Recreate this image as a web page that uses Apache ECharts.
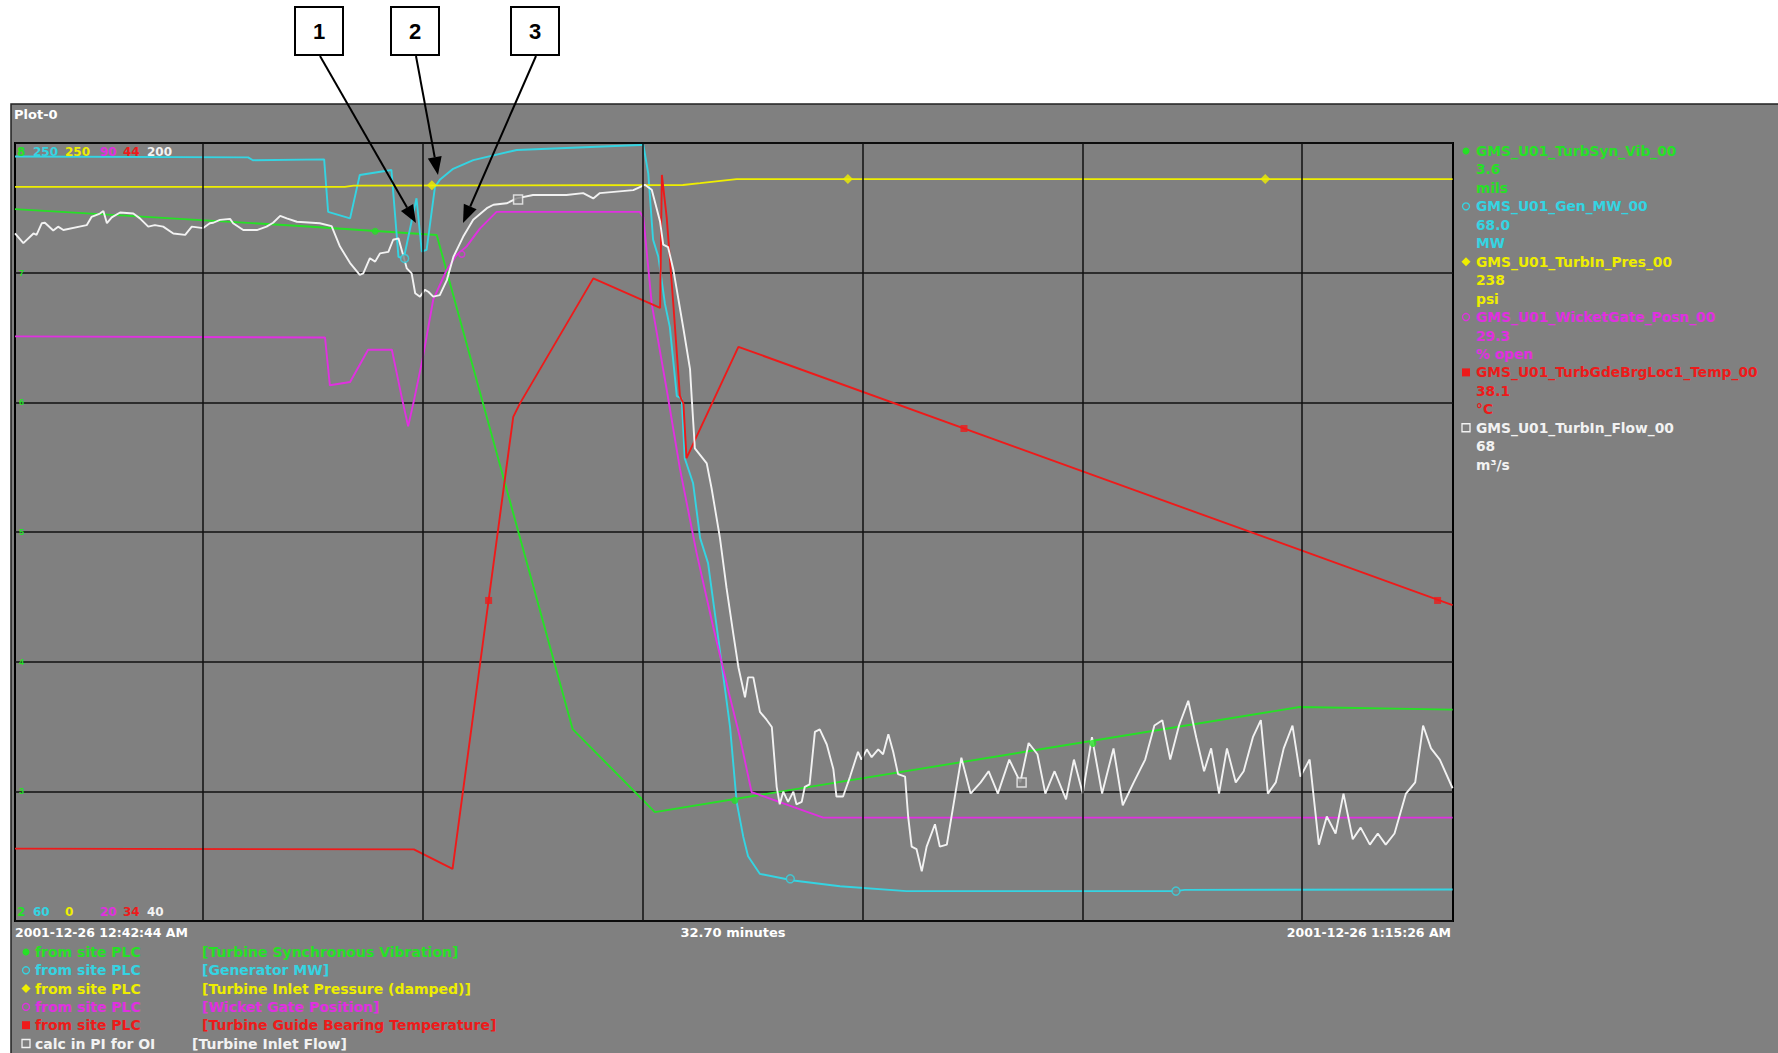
<!DOCTYPE html>
<html><head><meta charset="utf-8">
<script src="https://cdn.jsdelivr.net/npm/echarts@6/dist/echarts.min.js"></script>
<style>html,body{margin:0;padding:0;background:#fff;overflow:hidden}#c{width:1778px;height:1053px}</style>
</head><body><div id="c"></div>
<script>
// ---------- DATA (time in minutes after 2001-12-26 12:42:44 AM) ----------
const totalMinutes = 32.7;
const vGridT = [4.275, 9.275, 14.275, 19.275, 24.275, 29.275];

const greenT = [0, 6.48, 9.59, 12.68, 14.55, 29.21, 32.69];
const greenV = [7.49, 7.36, 7.29, 3.48, 2.84, 3.65, 3.63];
const greenMarkT = [8.19, 16.37, 24.51];
const greenMarkV = [7.32, 2.93, 3.37];

const cyanT = [0, 5.30, 5.41, 7.03, 7.12, 7.62, 7.84, 8.56, 8.72, 8.84,
  9.13, 9.25, 9.36, 9.55, 9.66, 9.95, 10.42, 11.41, 14.21, 14.29, 14.40,
  14.51, 14.63, 14.78, 14.89, 15.05, 15.16, 15.23, 15.42, 15.58, 15.76,
  15.99, 16.26, 16.41, 16.56, 16.67, 16.94, 17.70, 18.76, 20.27, 26.38,
  26.60, 32.69];
const cyanV = [246.7, 246.5, 245.8, 246.0, 233.2, 231.6, 242.2, 243.4, 222.2, 221.8,
  236.5, 223.5, 223.9, 239.3, 241.0, 243.6, 245.8, 248.3, 249.5, 249.5, 242.6,
  226.4, 222.2, 210.7, 205.1, 188.2, 187.6, 173.0, 166.9, 153.5, 147.4,
  129.2, 107.4, 89.1, 80.6, 75.8, 71.5, 69.9, 68.5, 67.3, 67.3,
  67.6, 67.7];
const cyanMarkT = [8.86, 17.63, 26.40];
const cyanMarkV = [221.8, 70.3, 67.3];

const yellowT = [0, 7.50, 7.70, 15.19, 15.58, 16.41, 32.69];
const yellowV = [235.9, 235.9, 236.3, 236.5, 237.1, 238.4, 238.4];
const yellowMarkT = [9.48, 18.94, 28.43];
const yellowMarkV = [236.4, 238.4, 238.4];

const magT = [0, 7.05, 7.16, 7.62, 8.03, 8.57, 8.79, 8.94, 9.06, 9.28,
  9.51, 9.82, 10.04, 10.27, 10.57, 10.95, 14.21, 14.29, 14.48, 14.82,
  15.12, 15.50, 15.88, 16.26, 16.48, 16.75, 17.39, 18.38, 32.69];
const magV = [72.6, 72.5, 68.2, 68.5, 71.4, 71.4, 67.2, 64.5, 66.6, 70.8,
  75.9, 78.6, 79.9, 80.7, 82.3, 83.8, 83.8, 83.3, 75.5, 67.8,
  60.7, 53.1, 46.4, 40.1, 36.6, 31.6, 30.7, 29.3, 29.3];
const magMarkT = [10.16];
const magMarkV = [80.0];

const redT = [0, 9.07, 9.95, 11.33, 11.48, 13.15, 14.67, 14.71, 14.82, 14.97, 15.12, 15.20, 15.27, 16.45, 32.69];
const redV = [34.93, 34.92, 34.67, 40.48, 40.65, 42.26, 41.88, 43.59, 43.04, 41.93, 40.75, 40.65, 39.95, 41.38, 38.06];
const redMarkT = [10.77, 21.58, 32.35];
const redMarkV = [38.12, 40.33, 38.12];

const whiteT = [
  0, .19, .42, .49, .61, .68, .87, .98, 1.10, 1.52,
  1.63, 1.74, 1.93, 2.01, 2.09, 2.20, 2.39, 2.69, 2.84, 3.03,
  3.18, 3.37, 3.60, 3.87, 4.02, 4.28, 4.43, 4.51, 4.66, 4.89,
  4.96, 5.19, 5.50, 5.72, 5.87, 6.03, 6.18, 6.41, 6.93, 7.20,
  7.39, 7.62, 7.84, 7.92, 8.07, 8.19, 8.30, 8.49, 8.60, 8.72,
  8.91, 9.02, 9.10, 9.21, 9.32, 9.40, 9.51, 9.66, 9.82, 9.97,
  10.19, 10.42, 10.73, 10.88, 11.18, 11.41, 11.78, 12.54, 12.92, 13.15,
  13.30, 14.06, 14.32, 14.48, 14.67, 14.74, 14.85, 14.97, 15.20, 15.35,
  15.39, 15.46, 15.73, 15.84, 16.03, 16.18, 16.33, 16.45, 16.60, 16.67,
  16.79, 16.94, 17.09, 17.21, 17.32, 17.39, 17.47, 17.58, 17.70, 17.77,
  17.89, 17.96, 18.07, 18.19, 18.30, 18.46, 18.61, 18.68, 18.83, 18.99,
  19.17, 19.25, 19.37, 19.48, 19.63, 19.74, 19.86, 19.97, 20.08, 20.24,
  20.31, 20.39, 20.50, 20.62, 20.73, 20.92, 21.03, 21.19, 21.52, 21.73,
  21.96, 22.14, 22.35, 22.61, 22.86, 23.05, 23.25, 23.43, 23.64, 23.90,
  24.08, 24.28, 24.49, 24.72, 24.98, 25.19, 25.44, 25.70, 25.91, 26.09,
  26.27, 26.47, 26.68, 26.86, 27.04, 27.20, 27.38, 27.56, 27.76, 27.94,
  28.15, 28.33, 28.49, 28.67, 28.85, 29.05, 29.23, 29.44, 29.65, 29.83,
  30.03, 30.21, 30.42, 30.60, 30.81, 30.99, 31.17, 31.37, 31.63, 31.84,
  32.02, 32.20, 32.40, 32.69];
const whiteV = [
  181.4, 179.4, 181.4, 181.1, 183.5, 183.6, 182.0, 182.8, 182.1, 182.9,
  183.1, 184.8, 185.5, 186.0, 183.5, 184.7, 185.7, 185.5, 184.5, 182.8,
  183.1, 182.8, 181.4, 181.1, 182.8, 182.5, 183.5, 183.6, 184.2, 184.4,
  183.5, 182.1, 182.1, 182.8, 183.6, 185.0, 184.5, 183.8, 183.5, 182.9,
  178.7, 175.3, 172.9, 173.2, 176.3, 175.6, 177.3, 177.6, 180.1, 180.4,
  174.2, 173.2, 169.1, 168.4, 169.8, 169.4, 168.4, 168.7, 171.8, 176.6,
  180.7, 184.2, 186.6, 187.3, 187.6, 188.6, 189.3, 189.3, 189.7, 188.6,
  189.7, 190.3, 191.4, 190.4, 183.8, 179.1, 178.6, 174.0, 161.8, 153.5,
  147.4, 137.2, 134.1, 129.0, 118.8, 108.5, 99.3, 92.2, 86.0, 90.1,
  90.1, 83.0, 81.4, 79.9, 67.6, 64.0, 66.6, 64.5, 66.6, 64.0,
  64.5, 67.6, 68.1, 78.9, 79.4, 76.3, 71.2, 65.6, 65.6, 69.7,
  74.8, 73.2, 75.3, 73.7, 75.3, 74.3, 78.4, 74.8, 70.2, 69.7,
  61.5, 55.3, 54.8, 50.2, 55.3, 59.9, 55.3, 55.7, 73.6, 66.2,
  68.5, 70.8, 66.2, 73.2, 68.5, 76.6, 74.3, 66.2, 70.8, 65.0,
  73.2, 66.2, 77.8, 66.2, 75.5, 63.8, 68.5, 73.2, 80.2, 81.3,
  73.2, 80.2, 85.3, 77.8, 70.8, 75.5, 66.2, 75.5, 68.5, 70.8,
  77.8, 81.3, 66.2, 68.5, 75.5, 80.2, 69.7, 73.2, 55.7, 61.5,
  58.0, 66.2, 56.8, 59.2, 55.7, 58.0, 55.7, 58.0, 66.2, 68.5,
  80.2, 75.5, 73.2, 67.3];
const whiteMarkT = [11.44, 22.89];
const whiteMarkV = [188.4, 68.5];

// scale labels (top = max, bottom = min)
const scaleTop = ['8', '250', '250', '90', '44', '200'];
const scaleBottom = ['2', '60', '0', '20', '34', '40'];
const scaleMin = [2, 60, 0, 20, 34, 40];
const scaleMax = [8, 250, 250, 90, 44, 200];

const tagNames = ['GMS_U01_TurbSyn_Vib_00', 'GMS_U01_Gen_MW_00', 'GMS_U01_TurbIn_Pres_00',
  'GMS_U01_WicketGate_Posn_00', 'GMS_U01_TurbGdeBrgLoc1_Temp_00', 'GMS_U01_TurbIn_Flow_00'];
const tagValues = ['3.6', '68.0', '238', '29.3', '38.1', '68'];
const tagUnits = ['mils', 'MW', 'psi', '% open', '°C', 'm³/s'];
const tagSources = ['from site PLC', 'from site PLC', 'from site PLC', 'from site PLC', 'from site PLC', 'calc in PI for OI'];
const tagDescs = ['[Turbine Synchronous Vibration]', '[Generator MW]', '[Turbine Inlet Pressure (damped)]',
  '[Wicket Gate Position]', '[Turbine Guide Bearing Temperature]', '[Turbine Inlet Flow]'];
const startLabel = '2001-12-26 12:42:44 AM';
const endLabel = '2001-12-26 1:15:26 AM';
const spanLabel = '32.70 minutes';

// ---------- STYLE ----------
const COLORS = ['#26e026', '#34d4e2', '#eeee00', '#e030e0', '#ee1a1a', '#f2f2f2'];
const BG = '#808080';
const F = '"DejaVu Sans", Verdana, sans-serif';
const G = {left: 15, top: 143, width: 1438, height: 778};

const zip = (a, b) => a.map((t, i) => [t, b[i]]);
const lines = [[greenT, greenV], [cyanT, cyanV], [yellowT, yellowV], [magT, magV], [redT, redV], [whiteT, whiteV]];
const marks = [[greenMarkT, greenMarkV], [cyanMarkT, cyanMarkV], [yellowMarkT, yellowMarkV], [magMarkT, magMarkV], [redMarkT, redMarkV], [whiteMarkT, whiteMarkV]];
const markSym = [
  {symbol: 'circle', size: 7, fill: true},
  {symbol: 'circle', size: 8, fill: false},
  {symbol: 'diamond', size: 10, fill: true},
  {symbol: 'circle', size: 6, fill: false},
  {symbol: 'rect', size: 7, fill: true},
  {symbol: 'rect', size: 9, fill: false}
];

const series = [];
series.push({
  type: 'line', data: [[0, 5]], xAxisIndex: 0, yAxisIndex: 0, symbol: 'none', z: 1,
  lineStyle: {width: 0, opacity: 0}, silent: true,
  markLine: {silent: true, symbol: ['none', 'none'], label: {show: false},
    lineStyle: {color: '#111', width: 1.5, type: 'solid'},
    data: vGridT.map(t => ({xAxis: t}))}
});
lines.forEach((l, i) => {
  series.push({type: 'line', yAxisIndex: i, data: zip(l[0], l[1]), symbol: 'none', z: 3,
    lineStyle: {color: COLORS[i], width: 1.9}, silent: true});
});
marks.forEach((m, i) => {
  const s = markSym[i];
  series.push({type: 'scatter', yAxisIndex: i, data: zip(m[0], m[1]), symbol: s.symbol, symbolSize: s.size, z: 5,
    itemStyle: s.fill ? {color: COLORS[i]} : {color: BG, borderColor: COLORS[i], borderWidth: 1.5}, silent: true});
});

const yAxis = scaleMin.map((mn, i) => i === 0 ? {
  type: 'value', min: mn, max: scaleMax[i], interval: 1, position: 'left',
  axisLine: {show: false}, axisTick: {show: false},
  splitLine: {show: true, lineStyle: {color: '#111', width: 1.5}},
  axisLabel: {inside: true, color: COLORS[0], fontSize: 9, fontWeight: 'bold', margin: 4, showMinLabel: false, showMaxLabel: false}
} : {type: 'value', min: mn, max: scaleMax[i], show: false});

// ---------- GRAPHICS (texts, legend, annotations) ----------
const gr = [];
const txt = (x, y, s, color, size, align) => gr.push({type: 'text', x, y, z: 100,
  style: {text: s, fill: color, font: `bold ${size}px ${F}`, textAlign: align || 'left', textVerticalAlign: 'middle'}});
function marker(kind, cx, cy, color) {
  const base = {z: 100, x: 0, y: 0};
  if (kind === 0) gr.push({...base, type: 'circle', shape: {cx, cy, r: 3.5}, style: {fill: color}});
  if (kind === 1 || kind === 3) gr.push({...base, type: 'circle', shape: {cx, cy, r: 3.5}, style: {fill: 'none', stroke: color, lineWidth: 1.3}});
  if (kind === 2) gr.push({...base, type: 'polygon', shape: {points: [[cx, cy - 4.5], [cx + 4.5, cy], [cx, cy + 4.5], [cx - 4.5, cy]]}, style: {fill: color}});
  if (kind === 4) gr.push({...base, type: 'rect', shape: {x: cx - 4, y: cy - 4, width: 8, height: 8}, style: {fill: color}});
  if (kind === 5) gr.push({...base, type: 'rect', shape: {x: cx - 4, y: cy - 4, width: 8, height: 8}, style: {fill: 'none', stroke: color, lineWidth: 1.3}});
}
// panel
gr.push({type: 'rect', z: -10, shape: {x: 11, y: 104, width: 1780, height: 960}, style: {fill: BG, stroke: '#222', lineWidth: 1.5}});
txt(14, 114, 'Plot-0', '#fff', 13);
// scale labels
const scaleX = [17, 33, 65, 100, 123, 147];
scaleTop.forEach((s, i) => txt(scaleX[i], 152, s, COLORS[i], 12));
scaleBottom.forEach((s, i) => txt(scaleX[i], 912, s, COLORS[i], 12));
// time labels
txt(15, 932, startLabel, '#fff', 12.5);
txt(733, 932, spanLabel, '#fff', 13, 'center');
txt(1451, 932, endLabel, '#fff', 12.5, 'right');
// right legend
tagNames.forEach((n, i) => {
  const y0 = 151 + i * 3 * 18.45;
  marker(i, 1466, y0, COLORS[i]);
  txt(1476, y0, n, COLORS[i], 13.8);
  txt(1476, y0 + 18.45, tagValues[i], COLORS[i], 13.8);
  txt(1476, y0 + 36.9, tagUnits[i], COLORS[i], 13.8);
});
// bottom legend
tagSources.forEach((s, i) => {
  const y = 952 + i * 18.3;
  marker(i, 26, y, COLORS[i]);
  txt(35, y, s, COLORS[i], 14);
  txt(i === 5 ? 192 : 202, y, tagDescs[i], COLORS[i], 14);
});
// annotation boxes + arrows
const boxes = [{x: 295, n: '1', from: [320, 56], to: [416, 223]},
  {x: 391, n: '2', from: [416, 56], to: [438, 175]},
  {x: 511, n: '3', from: [536, 56], to: [463, 223]}];
boxes.forEach(b => {
  gr.push({type: 'rect', z: 100, shape: {x: b.x, y: 7, width: 48, height: 48}, style: {fill: '#fff', stroke: '#000', lineWidth: 2}});
  gr.push({type: 'text', z: 101, x: b.x + 24, y: 31, style: {text: b.n, fill: '#000', font: 'bold 22px "Liberation Sans", Arial, sans-serif', textAlign: 'center', textVerticalAlign: 'middle'}});
  const [x1, y1] = b.from, [x2, y2] = b.to;
  const a = Math.atan2(y2 - y1, x2 - x1), L = 18, W = 7;
  const bx = x2 - L * Math.cos(a), by = y2 - L * Math.sin(a);
  gr.push({type: 'line', z: 100, shape: {x1, y1, x2: bx, y2: by}, style: {stroke: '#000', lineWidth: 2}});
  gr.push({type: 'polygon', z: 100, shape: {points: [[x2, y2], [bx + W * Math.sin(a), by - W * Math.cos(a)], [bx - W * Math.sin(a), by + W * Math.cos(a)]]}, style: {fill: '#000'}});
});

const chart = echarts.init(document.getElementById('c'), null, {renderer: 'svg'});
chart.setOption({
  animation: false,
  backgroundColor: '#ffffff',
  grid: {...G, show: true, backgroundColor: BG, borderColor: '#000', borderWidth: 2},
  xAxis: {type: 'value', min: 0, max: totalMinutes, show: false},
  yAxis,
  series,
  graphic: {elements: gr}
});
</script></body></html>
